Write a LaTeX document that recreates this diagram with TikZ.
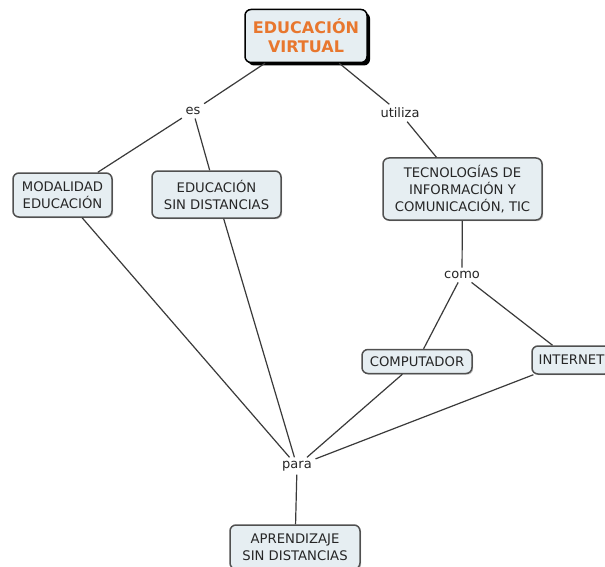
\documentclass[tikz,border=0pt]{standalone}
\usepackage{fontspec}
\setmainfont{DejaVu Sans}
\usetikzlibrary{shadows}
\definecolor{boxfill}{HTML}{E6EEF2}
\definecolor{boxline}{HTML}{505050}
\definecolor{linkline}{HTML}{3A3A3A}
\definecolor{titleor}{HTML}{E8772E}
\begin{document}
\begin{tikzpicture}[x=1pt,y=-1pt,
  concept/.style={draw=boxline, line width=1.5pt, fill=boxfill, rounded corners=6pt,
    align=center, inner sep=0pt, font=\fontsize{13.2}{17}\selectfont, text=black!85,
    drop shadow={shadow xshift=1.2pt, shadow yshift=-1.2pt, fill=black!35, opacity=0.6}},
  maintopic/.style={draw=black, line width=1.5pt, fill=boxfill, rounded corners=6pt,
    align=center, inner sep=0pt, font=\fontsize{16}{19}\selectfont\bfseries, text=titleor,
    drop shadow={shadow xshift=3pt, shadow yshift=-3pt, fill=black, opacity=1}},
  linkword/.style={font=\fontsize{13}{15}\selectfont, inner sep=3.5pt, text=black!85},
  link/.style={draw=linkline, line width=1.2pt}
]
\useasboundingbox (0,0) rectangle (605,567);
\fill[white] (0,0) rectangle (605,567);

\node[maintopic, minimum width=122pt, minimum height=53pt] (ev) at (306,36) {EDUCACIÓN\\VIRTUAL};
\node[concept, minimum width=99pt, minimum height=44pt] (mod) at (62.5,195) {MODALIDAD\\EDUCACIÓN};
\node[concept, minimum width=129pt, minimum height=47pt] (esd) at (216.5,194.5) {EDUCACIÓN\\SIN DISTANCIAS};
\node[concept, minimum width=159pt, minimum height=62pt] (tic) at (462.5,189) {TECNOLOGÍAS DE\\INFORMACIÓN Y\\COMUNICACIÓN, TIC};
\node[concept, minimum width=110pt, minimum height=24pt] (comp) at (417,361.5) {COMPUTADOR};
\node[concept, minimum width=79pt, minimum height=28pt] (inet) at (571.5,360) {INTERNET};
\node[concept, minimum width=130pt, minimum height=44pt] (apr) at (295,547) {APRENDIZAJE\\SIN DISTANCIAS};

\node[linkword] (es) at (193,111) {es};
\node[linkword] (uti) at (400,113) {utiliza};
\node[linkword] (como) at (462,275) {como};
\node[linkword] (para) at (297,466) {para};

\draw[link] (ev) -- (es);
\draw[link] (es) -- (mod);
\draw[link] (es) -- (esd);
\draw[link] (ev) -- (uti);
\draw[link] (uti) -- (tic);
\draw[link] (tic) -- (como);
\draw[link] (como) -- (comp);
\draw[link] (como) -- (inet);
\draw[link] (mod) -- (para);
\draw[link] (esd) -- (para);
\draw[link] (comp) -- (para);
\draw[link] (inet) -- (para);
\draw[link] (para) -- (apr);
\end{tikzpicture}
\end{document}
